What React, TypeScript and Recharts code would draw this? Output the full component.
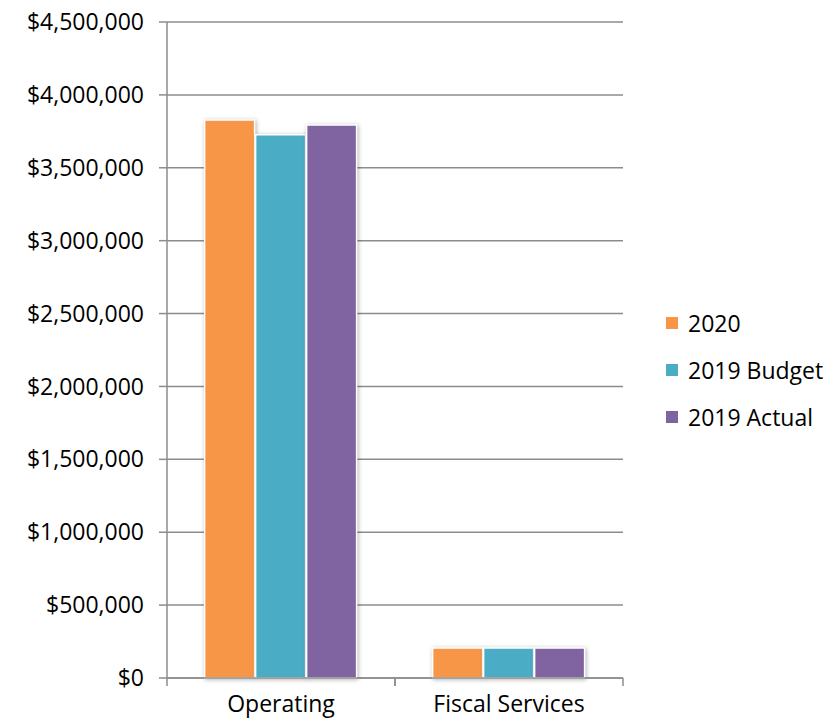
import React from "react";
import { BarChart, Bar, XAxis, YAxis, CartesianGrid, Legend } from "recharts";

const categories = ["Operating", "Fiscal Services"];
const seriesNames = ["2020", "2019 Budget", "2019 Actual"];
const values2020 = [3828000, 206000];
const budget2019 = [3727000, 205000];
const actual2019 = [3793000, 205000];
const yTicks = [0, 500000, 1000000, 1500000, 2000000, 2500000, 3000000, 3500000, 4000000, 4500000];

const data = categories.map((name, i) => ({
    name,
    v2020: values2020[i],
    budget: budget2019[i],
    actual: actual2019[i],
}));

const FONT = "'Open Sans', 'Noto Sans', sans-serif";
const AXIS = "#8c8c8c";
const FS = 23;

const fmt = (v: number) => "$" + v.toLocaleString("en-US");

function CategoryTick(props: any) {
    const { x, y, payload } = props;
    const half = payload.offset || 0;
    return (
        <g>
            <line x1={x - half} y1={y - 8} x2={x - half} y2={y} stroke={AXIS} strokeWidth={1.5} />
            <line x1={x + half} y1={y - 8} x2={x + half} y2={y} stroke={AXIS} strokeWidth={1.5} />
            <text x={x} y={y + 26} textAnchor="middle" fill="#000" fontSize={FS} fontFamily={FONT}>
                {payload.value}
            </text>
        </g>
    );
}

function LegendList(props: any) {
    const items = [...(props.payload || [])].sort(
        (a: any, b: any) => seriesNames.indexOf(a.value) - seriesNames.indexOf(b.value)
    );
    return (
        <div style={{ fontFamily: FONT, fontSize: FS }}>
            {items.map((it: any) => (
                <div key={it.value} style={{ display: "flex", alignItems: "center", height: 47 }}>
                    <span style={{ width: 12, height: 12, background: it.color, display: "inline-block", marginRight: 10 }} />
                    <span style={{ color: "#000" }}>{it.value}</span>
                </div>
            ))}
        </div>
    );
}

const barStyle = { filter: "drop-shadow(1px 1px 2px rgba(0,0,0,0.3))" };

export default function App() {
    return (
        <div style={{ position: "absolute", left: 0, top: 0, background: "#fff" }}>
            <BarChart
                width={840}
                height={726}
                data={data}
                margin={{ top: 22, right: 47, left: 0, bottom: 0 }}
                barCategoryGap="16.5%"
                barGap={1}
            >
                <CartesianGrid vertical={false} stroke={AXIS} strokeWidth={1.5} />
                <XAxis
                    dataKey="name"
                    height={48}
                    axisLine={{ stroke: AXIS, strokeWidth: 1.5 }}
                    tickLine={false}
                    tick={<CategoryTick />}
                    interval={0}
                />
                <YAxis
                    width={167}
                    domain={[0, 4500000]}
                    ticks={yTicks}
                    interval={0}
                    tickFormatter={fmt}
                    axisLine={{ stroke: AXIS, strokeWidth: 1.5 }}
                    tickLine={{ stroke: AXIS, strokeWidth: 1.5 }}
                    tickSize={8}
                    tickMargin={15}
                    tick={{ fill: "#000", fontSize: FS, fontFamily: FONT }}
                />
                <Legend
                    layout="horizontal"
                    align="right"
                    verticalAlign="middle"
                    content={<LegendList />}
                    wrapperStyle={{ left: 666, top: 299, width: 170 }}
                />
                <Bar dataKey="v2020" name={seriesNames[0]} fill="#F79646" stroke="#fff" strokeWidth={1.5} style={barStyle} isAnimationActive={false} />
                <Bar dataKey="budget" name={seriesNames[1]} fill="#4BACC6" stroke="#fff" strokeWidth={1.5} style={barStyle} isAnimationActive={false} />
                <Bar dataKey="actual" name={seriesNames[2]} fill="#8064A2" stroke="#fff" strokeWidth={1.5} style={barStyle} isAnimationActive={false} />
            </BarChart>
        </div>
    );
}
